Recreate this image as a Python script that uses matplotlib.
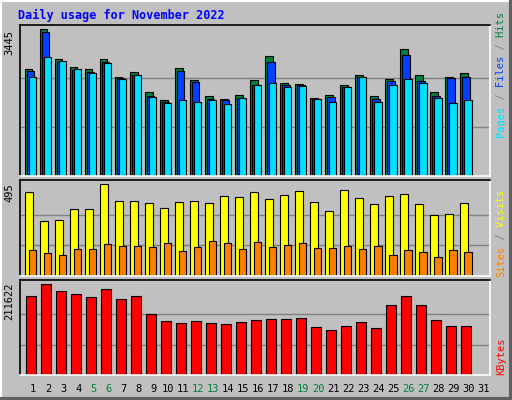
import matplotlib
matplotlib.use("Agg")
import matplotlib.pyplot as plt
import numpy as np
from matplotlib.lines import Line2D

days = list(range(1, 32))
data_days = np.arange(1, 31)
hits_px = [320,440,350,326,320,350,298,311,252,227,323,287,239,230,242,287,359,278,275,233,242,272,302,239,290,380,302,252,298,308]
files_px = [316,431,342,318,311,343,293,303,240,221,315,281,231,227,235,273,341,272,273,230,236,267,296,230,284,363,284,239,293,296]
pages_px = [296,356,344,320,308,338,292,302,236,218,227,221,227,215,233,272,278,266,269,230,221,266,296,221,272,290,278,233,218,227]
hits = [round(v * 3445 / 440) for v in hits_px]
files = [round(v * 3445 / 440) for v in files_px]
pages = [round(v * 3445 / 440) for v in pages_px]
visits_px = [252,165,168,201,201,276,225,225,219,204,222,225,219,240,237,252,231,243,255,222,195,258,234,216,240,246,216,183,186,219]
sites_px = [78,69,63,81,81,96,90,90,87,99,75,87,105,99,81,102,87,93,99,84,84,90,81,90,63,78,72,57,78,72]
visits = [round(v * 495 / 276) for v in visits_px]
sites = [round(v * 495 / 276) for v in sites_px]
kb_px = [237,273,252,243,234,258,228,237,183,162,156,162,156,153,159,165,168,168,171,144,135,147,159,141,210,237,210,165,147,147]
kbytes = [round(v * 211622 / 273) for v in kb_px]
weekend = [5, 6, 12, 13, 19, 20, 26, 27]

W, H = 512, 400
fig = plt.figure(figsize=(W/100, H/100), dpi=100, facecolor="#c0c0c0")
mono = "DejaVu Sans Mono"

def fx(x): return x / W
def fy(y): return 1 - y / H

def make_ax(top, bot):
    ax = fig.add_axes([fx(20), fy(bot), fx(470), (bot - top) / H])
    ax.set_facecolor("#c0c0c0")
    ax.set_xlim(0.13, 31.45)
    ax.set_xticks([]); ax.set_yticks([])
    ax.spines["top"].set_color("black"); ax.spines["left"].set_color("black")
    ax.spines["bottom"].set_color("white"); ax.spines["right"].set_color("white")
    for s in ax.spines.values(): s.set_linewidth(1.2)
    return ax

x = data_days
ek = dict(edgecolor="black", linewidth=0.8, align="edge")

ax1 = make_ax(25, 176)
m1 = max(hits); ax1.set_ylim(0, m1 * 1.03)
for g in (m1/3, 2*m1/3): ax1.axhline(g, color="#808080", lw=1, zorder=0)
ax1.bar(x - 0.53, hits, width=0.49, color="#008040", **ek)
ax1.bar(x - 0.40, files, width=0.49, color="#0040ff", **ek)
ax1.bar(x - 0.27, pages, width=0.49, color="#00e0ff", **ek)

ax2 = make_ax(180, 276)
m2 = max(visits); ax2.set_ylim(0, m2 * 1.045)
for g in (m2/3, 2*m2/3): ax2.axhline(g, color="#808080", lw=1, zorder=0)
ax2.bar(x - 0.53, visits, width=0.53, color="#ffff00", **ek)
ax2.bar(x - 0.27, sites, width=0.49, color="#ff8000", **ek)

ax3 = make_ax(280, 375)
m3 = max(kbytes); ax3.set_ylim(0, m3 * 1.044)
for g in (m3/3, 2*m3/3): ax3.axhline(g, color="#808080", lw=1, zorder=0)
ax3.bar(x - 0.47, kbytes, width=0.66, color="#ff0000", **ek)

for ax, lab in ((ax1, str(max(hits))), (ax2, str(max(visits))), (ax3, str(max(kbytes)))):
    ax.text(-0.012, 0.97, lab, transform=ax.transAxes, rotation=90, ha="right", va="top",
            family=mono, fontsize=7.5, color="black")

for d in days:
    xx = ax3.transData.transform((d, 0))[0]
    fig.text(xx / W, fy(389), str(d), ha="center", va="center", family=mono, fontsize=7.5,
             color="#008040" if d in weekend else "black")

def side(parts, ybot, size=7.5):
    s = ""
    for txt, col in parts:
        fig.text(fx(501), fy(ybot), " " * len(s) + txt, rotation=90, rotation_mode="anchor",
                 ha="left", va="center", family=mono, fontsize=size, color=col)
        s += txt

side([("Pages", "#00e0ff"), (" / ", "#808080"), ("Files", "#0040ff"), (" / ", "#808080"), ("Hits", "#008040")], 137)
side([("Sites", "#ff8000"), (" / ", "#808080"), ("Visits", "#ffff00")], 277)
side([("KBytes", "#ff0000")], 375)

fig.text(fx(18), fy(15), "Daily usage for November 2022", ha="left", va="center",
         family=mono, fontsize=8.5, fontweight="bold", color="#0000ff")

fig.add_artist(Line2D([0, 1], [1 - 0.5/H]*2, transform=fig.transFigure, color="white", lw=1.5))
fig.add_artist(Line2D([0.5/W]*2, [0, 1], transform=fig.transFigure, color="white", lw=1.5))
fig.add_artist(Line2D([0, 1], [1.5/H]*2, transform=fig.transFigure, color="#606060", lw=3))
fig.add_artist(Line2D([1 - 1.5/W]*2, [0, 1], transform=fig.transFigure, color="#606060", lw=3))

fig.savefig("out.png", dpi=100, facecolor=fig.get_facecolor())
